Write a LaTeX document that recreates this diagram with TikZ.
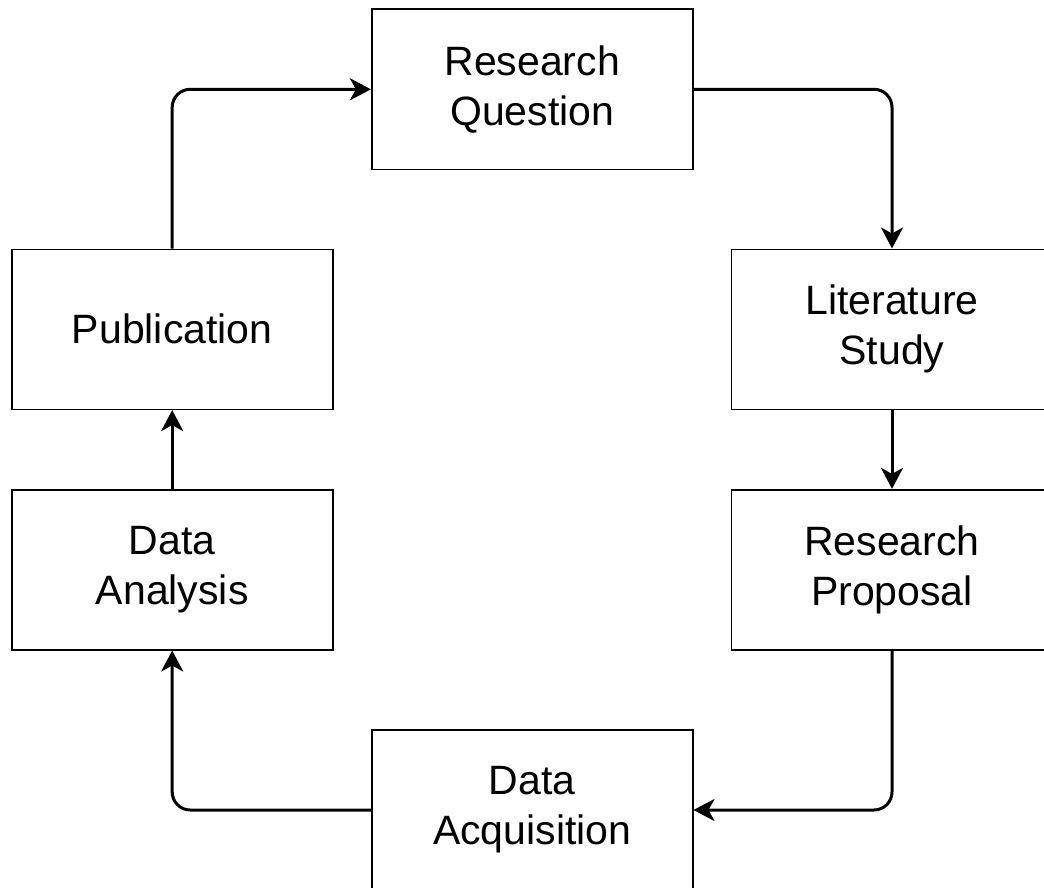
\documentclass[tikz,border=0pt]{standalone}
\usepackage{fontspec}
\setmainfont{Liberation Sans}
\usetikzlibrary{arrows.meta}
\begin{document}
\begin{tikzpicture}[x=1pt,y=-1pt,
  stagebox/.style={draw=black, line width=1.6pt, minimum width=321pt, minimum height=160pt,
    inner sep=0pt, align=center, font=\fontsize{41}{50}\selectfont, fill=white},
  flow/.style={line width=3pt, rounded corners=18pt,
    -{Stealth[length=21pt,width=22pt,inset=6pt]}}]
\useasboundingbox (0,0) rectangle (1044,888);
\clip (0,0) rectangle (1044,888);
\node[stagebox] (rq)   at (532.2,89.3)  {Research\\Question};
\node[stagebox] (lit)  at (892,329.3)   {Literature\\Study};
\node[stagebox] (prop) at (892,569.7)   {Research\\Proposal};
\node[stagebox] (acq)  at (532.2,810)   {Data\\Acquisition};
\node[stagebox] (ana)  at (172.2,569.7) {Data\\Analysis};
\node[stagebox] (pub)  at (172.2,329.3) {Publication};
\draw[flow] (rq.east) -- (lit.north |- rq.east) -- (lit.north);
\draw[flow] (lit.south) -- (prop.north);
\draw[flow] (prop.south) -- (prop.south |- acq.east) -- (acq.east);
\draw[flow] (acq.west) -- (ana.south |- acq.west) -- (ana.south);
\draw[flow] (ana.north) -- (pub.south);
\draw[flow] (pub.north) -- (pub.north |- rq.west) -- (rq.west);
\end{tikzpicture}
\end{document}
